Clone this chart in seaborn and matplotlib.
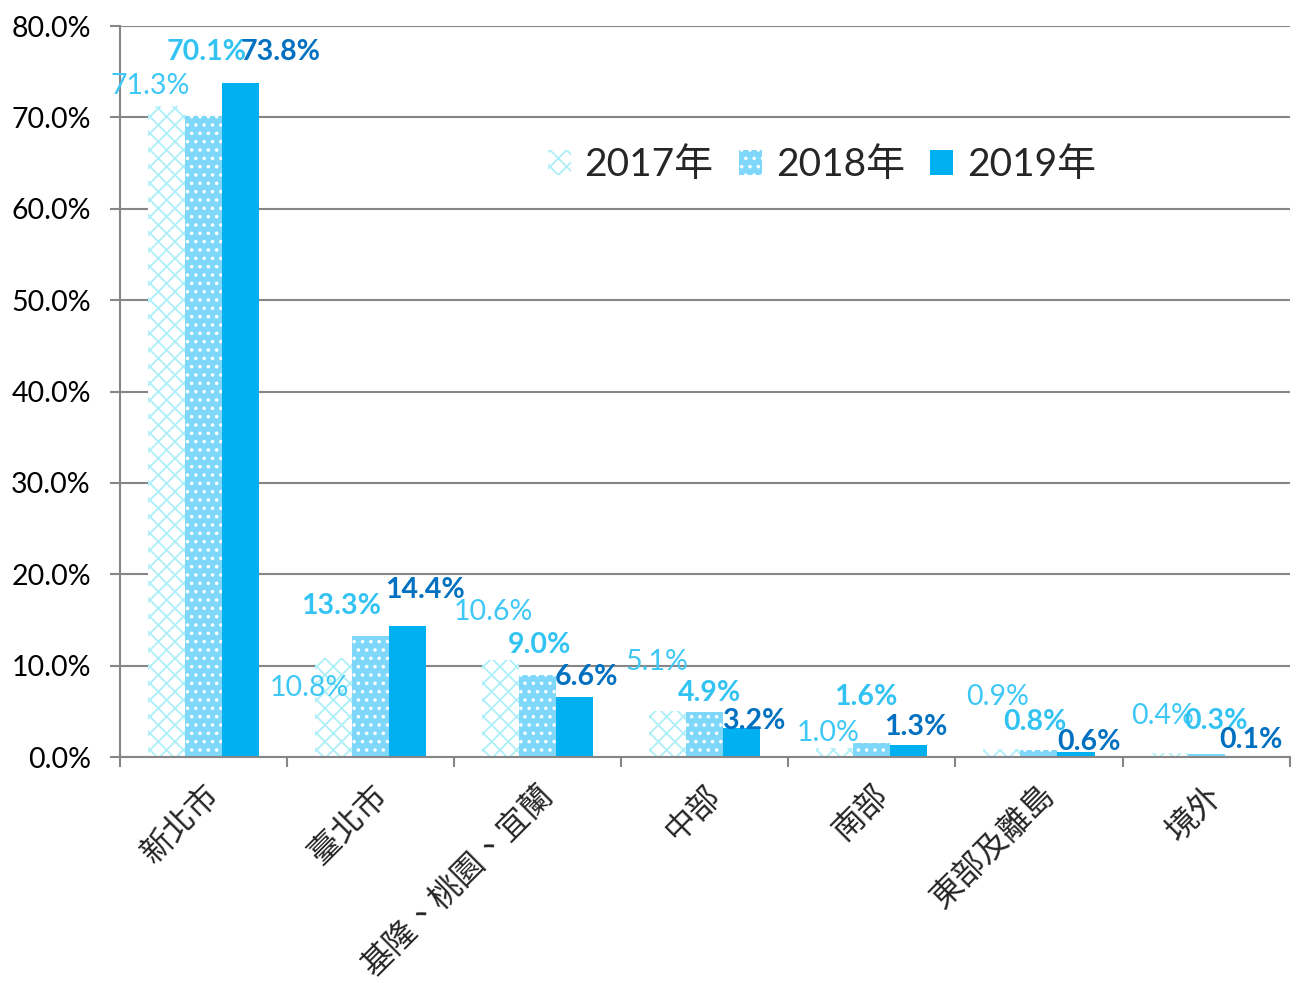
import matplotlib
matplotlib.use("Agg")
import matplotlib.pyplot as plt
import pandas as pd
import seaborn as sns
from matplotlib.ticker import FuncFormatter, FixedLocator

regions = ["新北市", "臺北市", "基隆、桃園、宜蘭", "中部", "南部", "東部及離島", "境外"]
years = ["2017年", "2018年", "2019年"]
share_2017 = [71.3, 10.8, 10.6, 5.1, 1.0, 0.9, 0.4]
share_2018 = [70.1, 13.3, 9.0, 4.9, 1.6, 0.8, 0.3]
share_2019 = [73.8, 14.4, 6.6, 3.2, 1.3, 0.6, 0.1]

# label nudges (pixels) from each bar top, mimicking the original hand-placed labels
label_nudge = {
    "2017年": [(-16, 20), (-24, -30), (-7, 48), (-11, 49), (-7, 15), (-4, 52), (-6, 37)],
    "2018年": [(3, 64), (-30, 30), (2, 30), (5, 19), (-6, 46), (-4, 28), (10, 33)],
    "2019年": [(40, 31), (17, 36), (12, 20), (12, 7), (7, 18), (13, 10), (8, 16)],
}

df = pd.DataFrame({
    "region": regions * 3,
    "year": [y for y in years for _ in regions],
    "share": share_2017 + share_2018 + share_2019,
})

sns.set_theme(style="white")
plt.rcParams["font.family"] = ["Lato", "Noto Sans CJK TC", "DejaVu Sans"]
plt.rcParams["hatch.linewidth"] = 1.3

grid_col = "#868686"
fig = plt.figure(figsize=(13, 9.82), dpi=100)
ax = fig.add_axes([0.0923, 0.229, 0.8997, 0.7445])
ax.set_axisbelow(True)
ax.yaxis.grid(True, color=grid_col, linewidth=1.5)

sns.barplot(data=df, x="region", y="share", hue="year",
            palette=["#FFFFFF", "#7FD8FA", "#00B0F0"], saturation=1,
            width=0.665, gap=0, ax=ax, legend=False)

styles = {
    "2017年": dict(face="#FFFFFF", hatch="xx", hcol="#ADEFF8"),
    "2018年": dict(face="#7FD8FA", hatch="..", hcol="#FFFFFF"),
    "2019年": dict(face="#00B0F0", hatch=None, hcol="#00B0F0"),
}
label_style = {
    "2017年": dict(color="#3FC8F5", fontweight="normal"),
    "2018年": dict(color="#33C3F3", fontweight="bold"),
    "2019年": dict(color="#0070C0", fontweight="bold"),
}

for year, cont in zip(years, ax.containers):
    st = styles[year]
    for bar in cont:
        bar.set_facecolor(st["face"])
        bar.set_edgecolor(st["hcol"])
        bar.set_linewidth(0)
        if st["hatch"]:
            bar.set_hatch(st["hatch"])
    for bar, (dx, dy) in zip(cont, label_nudge[year]):
        x = bar.get_x() + bar.get_width() / 2
        h = bar.get_height()
        ax.annotate(f"{h:.1f}%", (x, h), xytext=(dx, dy), textcoords="offset pixels",
                    ha="center", va="center", fontsize=20.5, zorder=5,
                    **label_style[year])

ax.set_ylim(0, 80)
ax.set_xlim(-0.5, len(regions) - 0.5)
ax.set_yticks(range(0, 81, 10))
ax.yaxis.set_major_formatter(FuncFormatter(lambda v, _: f"{v:.1f}%"))
ax.tick_params(axis="y", labelsize=20.5, colors=grid_col, labelcolor="black",
               length=7, width=1.5, direction="out", left=True, pad=14)

ax.set_xticks(range(len(regions)))
ax.set_xticklabels(regions, rotation=45, ha="right", va="top", rotation_mode="anchor",
                   fontsize=23, family=["Noto Sans CJK TC"])
ax.tick_params(axis="x", which="major", length=0, pad=16)
ax.xaxis.set_minor_locator(FixedLocator([i - 0.5 for i in range(len(regions) + 1)]))
ax.tick_params(axis="x", which="minor", length=7, width=1.5, color=grid_col,
               direction="out", bottom=True)

ax.set_xlabel("")
ax.set_ylabel("")
for side in ["top", "right"]:
    ax.spines[side].set_visible(False)
for side in ["left", "bottom"]:
    ax.spines[side].set_color(grid_col)
    ax.spines[side].set_linewidth(1.5)

leg = ax.legend(ax.containers, years, loc="center", bbox_to_anchor=(0.6, 0.81),
                ncol=3, frameon=False, fontsize=28, handlelength=0.6, handleheight=0.6,
                handletextpad=0.35, columnspacing=0.65)
for h in leg.legend_handles:
    h.set_linewidth(0)

fig.savefig("out.png", dpi=100)
